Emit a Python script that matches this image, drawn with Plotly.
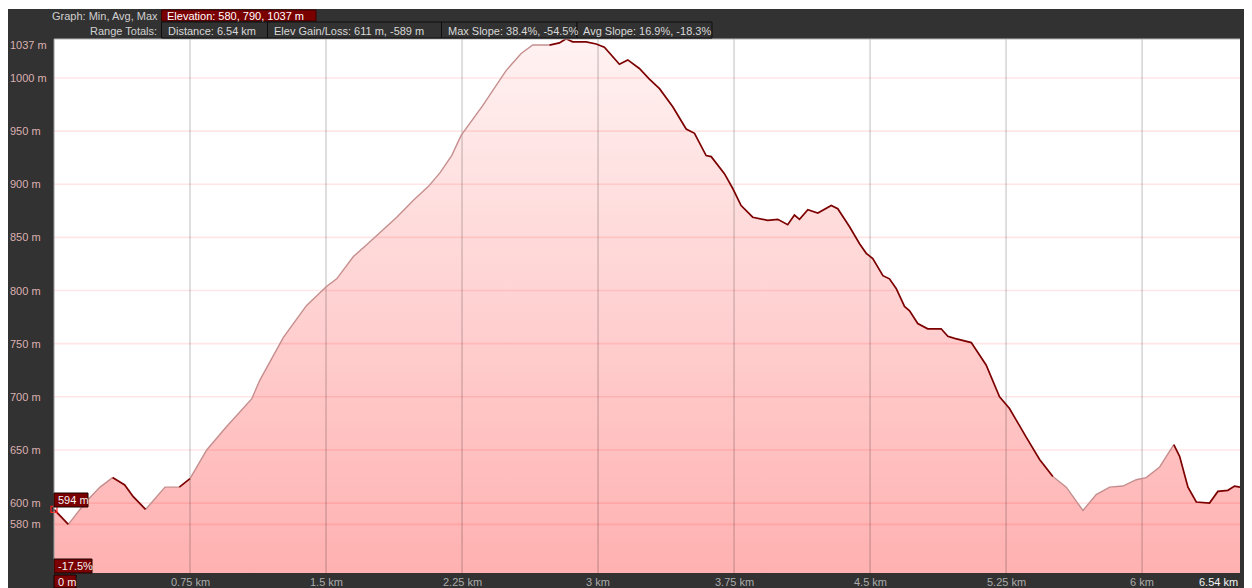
import plotly.graph_objects as go

# ---------------- data ----------------
distance_km = [0.0, 0.079, 0.18, 0.254, 0.323, 0.39, 0.437, 0.505, 0.612, 0.691,
               0.75, 0.842, 0.952, 1.09, 1.136, 1.265, 1.393, 1.504, 1.559, 1.651,
               1.724, 1.798, 1.89, 1.982, 2.065, 2.129, 2.193, 2.245, 2.364, 2.493,
               2.576, 2.64, 2.732, 2.787, 2.824, 2.86, 2.934, 2.99, 3.035, 3.081,
               3.118, 3.164, 3.228, 3.283, 3.339, 3.412, 3.486, 3.532, 3.596, 3.624,
               3.697, 3.743, 3.789, 3.853, 3.936, 3.991, 4.046, 4.083, 4.111, 4.157,
               4.212, 4.286, 4.322, 4.387, 4.442, 4.479, 4.515, 4.571, 4.607, 4.644,
               4.69, 4.718, 4.763, 4.818, 4.892, 4.929, 4.966, 5.058, 5.104, 5.14,
               5.214, 5.269, 5.361, 5.435, 5.508, 5.582, 5.674, 5.747, 5.821, 5.894,
               5.968, 6.023, 6.097, 6.175, 6.207, 6.253, 6.299, 6.372, 6.418, 6.473,
               6.51, 6.54]
elevation_m = [594, 580, 602, 615, 624, 617, 606, 594, 615, 615,
               623, 650, 672, 698, 716, 756, 786, 804, 811, 832,
               843, 855, 869, 885, 898, 911, 927, 946, 974, 1007,
               1023, 1031, 1031, 1033, 1037, 1034, 1034, 1032, 1029, 1020,
               1013, 1017, 1009, 999, 990, 973, 952, 948, 927, 926,
               910, 896, 880, 869, 866, 867, 862, 871, 867, 876,
               873, 880, 877, 860, 844, 835, 830, 814, 811, 802,
               785, 781, 769, 764, 764, 757, 755, 751, 739, 730,
               700, 689, 662, 641, 625, 615, 593, 608, 615, 616,
               622, 624, 634, 655, 644, 615, 601, 600, 611, 612,
               616, 615]
# distance ranges where the profile line is drawn in the light colour
light_ranges_km = [(0.079, 0.323), (0.505, 0.691), (0.75, 2.732), (5.508, 6.175)]

y_tick_values = [1037, 1000, 950, 900, 850, 800, 750, 700, 650, 600, 580]
y_grid_values = [1000, 950, 900, 850, 800, 750, 700, 650, 600, 580]
x_tick_values = [0.75, 1.5, 2.25, 3.0, 3.75, 4.5, 5.25, 6.0]
x_tick_labels = ["0.75 km", "1.5 km", "2.25 km", "3 km", "3.75 km", "4.5 km", "5.25 km", "6 km"]
x_end_label = "6.54 km"

header_row1_label = "Graph: Min, Avg, Max"
header_row1_box = "Elevation: 580, 790, 1037 m"
header_row2_label = "Range Totals:"
header_row2_boxes = ["Distance: 6.54 km", "Elev Gain/Loss: 611 m, -589 m",
                     "Max Slope: 38.4%, -54.5%", "Avg Slope: 16.9%, -18.3%"]
start_elev_label = "594 m"
start_slope_label = "-17.5%"
start_dist_label = "0 m"

X_MAX = 6.54
Y_MIN, Y_MAX = 534.2, 1036.7

# ---------------- geometry helpers ----------------
# the page has an 8px body margin; helpers take page pixel positions
OFF = 8
W, H = 1252, 588
ML, MR, MT, MB = 46, 20, 31, 23
PW, PH = W - ML - MR, H - MT - MB


def pxx(px):
    return (px - OFF - ML) / PW


def pxy(py):
    return (H - MB - (py - OFF)) / PH


FONT = "Liberation Sans, Arial, sans-serif"
DARK = "#323232"

fig = go.Figure()

# gradient fill
fig.add_trace(go.Scatter(
    x=distance_km, y=elevation_m, mode="lines", fill="tozeroy",
    line=dict(width=0, color="rgba(0,0,0,0)"),
    fillgradient=dict(type="vertical", start=Y_MIN, stop=Y_MAX,
                      colorscale=[[0, "#ffb1b1"], [1, "#fff2f2"]]),
    hoverinfo="skip", showlegend=False))

# grid lines (drawn over the fill, under the profile line)
gx, gy = [], []
for v in y_grid_values:
    gx += [0, X_MAX, None]
    gy += [v, v, None]
fig.add_trace(go.Scatter(x=gx, y=gy, mode="lines",
                         line=dict(color="rgba(255,0,0,0.10)", width=1.6),
                         hoverinfo="skip", showlegend=False))
vx, vy = [], []
for v in x_tick_values:
    vx += [v, v, None]
    vy += [Y_MIN - 50, Y_MAX + 50, None]
fig.add_trace(go.Scatter(x=vx, y=vy, mode="lines",
                         line=dict(color="rgba(0,0,0,0.20)", width=1.3),
                         hoverinfo="skip", showlegend=False))


# profile line split by style
def is_light(i):
    a, b = distance_km[i], distance_km[i + 1]
    return any(lo <= a and b <= hi for lo, hi in light_ranges_km)


def build(flag):
    xs, ys, last = [], [], None
    for i in range(len(distance_km) - 1):
        if is_light(i) != flag:
            continue
        if last == i:
            xs.append(distance_km[i + 1]); ys.append(elevation_m[i + 1])
        else:
            if xs:
                xs.append(None); ys.append(None)
            xs += [distance_km[i], distance_km[i + 1]]
            ys += [elevation_m[i], elevation_m[i + 1]]
        last = i + 1
    return xs, ys


lx, ly = build(True)
dx, dy = build(False)
fig.add_trace(go.Scatter(x=lx, y=ly, mode="lines",
                         line=dict(color="#c58e8e", width=1.4),
                         hoverinfo="skip", showlegend=False))
fig.add_trace(go.Scatter(x=dx, y=dy, mode="lines",
                         line=dict(color="#7d0000", width=1.7),
                         hoverinfo="skip", showlegend=False))

# start marker
fig.add_trace(go.Scatter(x=[distance_km[0]], y=[elevation_m[0]], mode="markers",
                         marker=dict(symbol="square-open", size=6, color="#ff2020",
                                     line=dict(width=1.2, color="#ff2020")),
                         cliponaxis=False, hoverinfo="skip", showlegend=False))

shapes = []
annotations = []

# 1px white line at very top (reference frame starts one pixel lower)
shapes.append(dict(type="rect", xref="paper", yref="paper", layer="above",
                   x0=pxx(0), x1=pxx(W + 20), y0=pxy(9), y1=pxy(0),
                   fillcolor="white", line=dict(width=0)))

# plot border (left + top)
shapes.append(dict(type="line", xref="paper", yref="paper", layer="above",
                   x0=0, x1=0, y0=0, y1=1,
                   line=dict(color="#9a9a9a", width=1)))
shapes.append(dict(type="line", xref="paper", yref="paper", layer="above",
                   x0=0, x1=1, y0=1, y1=1,
                   line=dict(color="#b4b4b4", width=1)))


def box(x0, x1, y0, y1, fill, line="#111111"):
    shapes.append(dict(type="rect", xref="paper", yref="paper", layer="above",
                       x0=pxx(x0), x1=pxx(x1), y0=pxy(y1), y1=pxy(y0),
                       fillcolor=fill, line=dict(color=line, width=1)))


def text(t, px, py, anchor="left", color="#d6d6d6", size=11):
    annotations.append(dict(text=t, xref="paper", yref="paper", x=pxx(px), y=pxy(py),
                            xanchor=anchor, yanchor="middle", showarrow=False,
                            font=dict(family=FONT, size=size, color=color)))


# header
text(header_row1_label, 160, 15.5, anchor="right", color="#d0d0d0")
box(161.5, 316, 10, 21, "#7a0000", line="#3a0000")
text(header_row1_box, 165, 15.5, color="#ffffff")

text(header_row2_label, 159, 30.5, anchor="right", color="#d0d0d0")
row2_edges = [161.5, 267.5, 441.5, 577, 712]
for i, t in enumerate(header_row2_boxes):
    box(row2_edges[i], row2_edges[i + 1], 22, 38, DARK, line="#0e0e0e")
    text(t, row2_edges[i] + 4, 30.5, color="#d8d8d8")

# y tick labels (left aligned)
YLAB_COLOR = "#dcb0b0"
for v in y_tick_values:
    if v > Y_MAX - 5:
        # top value label sits just below the plot top edge
        text(f"{v} m", 8, 45.5, color=YLAB_COLOR)
        continue
    annotations.append(dict(text=f"{v} m", xref="paper", yref="y", x=pxx(8), y=v,
                            xanchor="left", yanchor="middle", showarrow=False,
                            font=dict(family=FONT, size=11, color=YLAB_COLOR)))

# x tick labels
for v, t in zip(x_tick_values, x_tick_labels):
    annotations.append(dict(text=t, xref="x", yref="paper", x=v, y=pxy(581.5),
                            xanchor="center", yanchor="middle", showarrow=False,
                            font=dict(family=FONT, size=11, color="#ababab")))
annotations.append(dict(text=x_end_label, xref="x", yref="paper", x=X_MAX, y=pxy(581.5),
                        xanchor="right", yanchor="middle", showarrow=False,
                        font=dict(family=FONT, size=11, color="#f4f4f4")))

# start labels
box(54, 88, 493, 507, "#7a0000", line="#1a0000")
text(start_elev_label, 56, 500, color="#f4f4f4")
box(54, 92, 559, 573, "#7a0000", line="#1a0000")
text(start_slope_label, 56, 566, color="#f4f4f4")
box(54, 76, 575, 588, "#7a0000", line="#1a0000")
text(start_dist_label, 56, 581.5, color="#f4f4f4")

fig.update_layout(
    width=W, height=H, autosize=False,
    margin=dict(l=ML, r=MR, t=MT, b=MB, pad=0),
    paper_bgcolor=DARK, plot_bgcolor="white",
    xaxis=dict(range=[0, X_MAX], showgrid=False, zeroline=False, showticklabels=False,
               ticks="", showline=False, fixedrange=True),
    yaxis=dict(range=[Y_MIN, Y_MAX], showgrid=False, zeroline=False, showticklabels=False,
               ticks="", showline=False, fixedrange=True),
    shapes=shapes, annotations=annotations,
    font=dict(family=FONT), hovermode=False,
)

fig.write_html("out.html")
